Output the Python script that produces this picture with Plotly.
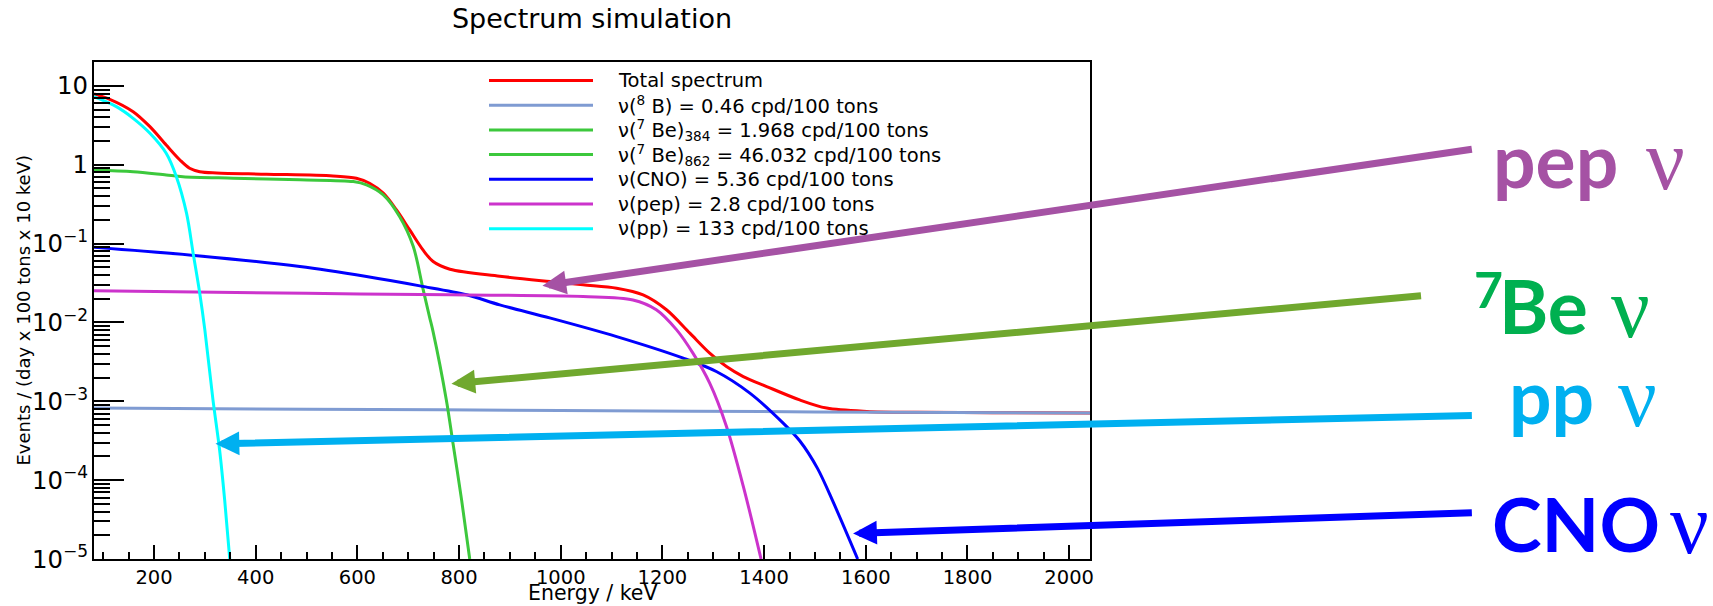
import math
import plotly.graph_objects as go

# ---------------- data ----------------
energy_total = [82, 113, 159, 192, 224, 251, 270, 290, 323, 421, 552, 598, 624, 651, 677, 703,
                729, 749, 782, 880, 979, 1044, 1110, 1162, 1208, 1254, 1293, 1326, 1359, 1405,
                1470, 1523, 1602, 1700, 1850, 2041]
rate_total = [7.89, 6.76, 4.71, 3.04, 1.78, 1.15, 0.904, 0.817, 0.787, 0.759, 0.721, 0.675, 0.582,
              0.436, 0.267, 0.149, 0.0832, 0.0592, 0.0473, 0.0386, 0.0330, 0.0300, 0.0272, 0.0224,
              0.0145, 0.00731, 0.00408, 0.00276, 0.00206, 0.00154, 0.00104, 0.00082, 0.000743,
              0.000724, 0.000717, 0.000708]

energy_b8 = [82, 500, 1000, 1500, 2041]
rate_b8 = [8.2e-4, 7.94e-4, 7.67e-4, 7.33e-4, 7.08e-4]

energy_be7 = [82, 159, 224, 257, 356, 487, 592, 618, 651, 683, 710, 729, 742, 749, 775, 788, 805, 821]
rate_be7 = [0.859, 0.817, 0.741, 0.706, 0.675, 0.643, 0.611, 0.555, 0.414, 0.220, 0.0916, 0.0269,
            0.0117, 0.00759, 0.00104, 0.000295, 0.0000562, 0.00001]

energy_cno = [82, 290, 487, 618, 723, 815, 880, 980, 1110, 1241, 1306, 1372, 1438, 1470, 1505,
              1536, 1584]
rate_cno = [0.0899, 0.0698, 0.0512, 0.0382, 0.0291, 0.0224, 0.0167, 0.01135, 0.00662, 0.00353,
            0.00239, 0.00127, 0.000525, 0.000316, 0.000141, 0.0000525, 0.00001]

energy_pep = [82, 500, 782, 1044, 1142, 1188, 1228, 1260, 1293, 1326, 1360, 1394]
rate_pep = [0.0252, 0.0234, 0.0224, 0.0213, 0.0193, 0.0145, 0.00805, 0.00408, 0.00170, 0.00048,
            0.0000794, 0.00001]

energy_pp = [82, 126, 159, 192, 224, 244, 264, 277, 290, 300, 316, 329, 339, 349]
rate_pp = [7.29, 5.45, 3.88, 2.51, 1.40, 0.706, 0.243, 0.0755, 0.0235, 0.00805, 0.00104, 0.000243,
           0.0000562, 0.00001]

legend_labels = [
    "Total spectrum",
    "\u03bd(<sup>8</sup> B) = 0.46 cpd/100 tons",
    "\u03bd(<sup>7</sup> Be)<sub>384</sub> = 1.968 cpd/100 tons",
    "\u03bd(<sup>7</sup> Be)<sub>862</sub> = 46.032 cpd/100 tons",
    "\u03bd(CNO) = 5.36 cpd/100 tons",
    "\u03bd(pep) = 2.8 cpd/100 tons",
    "\u03bd(pp) = 133 cpd/100 tons",
]

x_tick_vals = [200, 400, 600, 800, 1000, 1200, 1400, 1600, 1800, 2000]

# arrows: (tip energy, tip rate) -> (tail energy, tail rate)
arrow_tips = [(964, 0.0291), (785, 0.001667), (321, 0.000289), (1575, 0.0000211)]
arrow_tails = [(2795, 1.585), (2695, 0.02193), (2795, 0.000661), (2795, 0.0000386)]
arrow_colors = ["#A552A4", "#70A82E", "#00B0F0", "#0000FF"]

label_words = ["pep", "Be", "pp", "CNO"]
label_colors = ["#A552A4", "#00B050", "#00B0F0", "#0000FF"]

# ---------------- figure ----------------
W, H = 1713, 606
L, R, T, B = 94, 1090, 62, 559


def px_x(px):
    return (px - L) / (R - L)


def px_y(py):
    return (B - py) / (B - T)


ROOT_FONT = "DejaVu Sans"

series = [
    ("Total spectrum", energy_total, rate_total, "#FF0000"),
    ("8B", energy_b8, rate_b8, "#7F9BD2"),
    ("7Be", energy_be7, rate_be7, "#3CC83C"),
    ("CNO", energy_cno, rate_cno, "#0000FF"),
    ("pep", energy_pep, rate_pep, "#CC33CC"),
    ("pp", energy_pp, rate_pp, "#00FFFF"),
]
legend_colors = ["#FF0000", "#7F9BD2", "#3CC83C", "#3CC83C", "#0000FF", "#CC33CC", "#00FFFF"]

fig = go.Figure()
for name, xs, ys, col in series:
    fig.add_trace(go.Scatter(
        x=xs, y=ys, mode="lines", name=name, showlegend=False, hoverinfo="skip",
        line=dict(color=col, width=3, shape="spline", smoothing=0.9),
    ))

annotations = []
shapes = []

# manual ROOT-style legend
row_y0, row_dy = 80.5, 24.7
for i, (lab, col) in enumerate(zip(legend_labels, legend_colors)):
    yy = px_y(row_y0 + i * row_dy)
    shapes.append(dict(type="line", xref="paper", yref="paper", x0=px_x(489), x1=px_x(593),
                       y0=yy, y1=yy, line=dict(color=col, width=3)))
    annotations.append(dict(xref="paper", yref="paper", x=px_x(617), y=yy, text=lab,
                            showarrow=False, xanchor="left", yanchor="middle", borderpad=0,
                            font=dict(family=ROOT_FONT, size=19.5, color="black")))

# arrows
for (tx, ty), (ax_, ay_), col in zip(arrow_tips, arrow_tails, arrow_colors):
    annotations.append(dict(
        x=tx, y=math.log10(ty), xref="x", yref="y",
        ax=ax_, ay=math.log10(ay_), axref="x", ayref="y",
        text="", showarrow=True, arrowhead=2, arrowsize=0.68, arrowwidth=7,
        arrowcolor=col, standoff=0,
    ))

# big coloured labels
word_pos = [(1492, 159.4), (1498, 304.7), (1508, 395.4), (1491, 523.1)]
nu_pos = [(1645, 160.3), (1610, 307.6), (1617, 397.0), (1669, 524.3)]
for word, col, (wx, wy), (nx, ny) in zip(label_words, label_colors, word_pos, nu_pos):
    annotations.append(dict(xref="paper", yref="paper", x=px_x(wx), y=px_y(wy), text=word,
                            showarrow=False, xanchor="left", yanchor="middle", borderpad=0,
                            font=dict(family="Lato", size=75, color=col, weight="bold")))
    annotations.append(dict(xref="paper", yref="paper", x=px_x(nx), y=px_y(ny), text="\u03bd",
                            showarrow=False, xanchor="left", yanchor="middle", borderpad=0,
                            font=dict(family="Liberation Serif", size=86, color=col)))
# superscript 7 of 7Be
annotations.append(dict(xref="paper", yref="paper", x=px_x(1473), y=px_y(289), text="7",
                        showarrow=False, xanchor="left", yanchor="middle", borderpad=0,
                        font=dict(family="Lato", size=50, color=label_colors[1], weight="bold")))

# axis titles
annotations.append(dict(xref="paper", yref="paper", x=px_x(22.5), y=px_y(310),
                        text="Events / (day x 100 tons x 10 keV)", textangle=-90,
                        showarrow=False, xanchor="center", yanchor="middle",
                        font=dict(family=ROOT_FONT, size=18, color="black")))
annotations.append(dict(xref="paper", yref="paper", x=px_x(592.5), y=px_y(593),
                        text="Energy / keV", showarrow=False, xanchor="center", yanchor="middle",
                        font=dict(family=ROOT_FONT, size=20.5, color="black")))

fig.update_layout(
    width=W, height=H,
    margin=dict(l=L, r=W - R, t=T, b=H - B, pad=0),
    paper_bgcolor="white", plot_bgcolor="white",
    title=dict(text="Spectrum simulation", x=0.5, xref="paper", xanchor="center",
               y=1 - 19 / H, yanchor="middle", font=dict(family=ROOT_FONT, size=27, color="black")),
    annotations=annotations, shapes=shapes,
    showlegend=False,
)
fig.update_xaxes(
    range=[82, 2041], showgrid=False, zeroline=False,
    showline=True, linecolor="black", linewidth=2, mirror=True,
    ticks="inside", ticklen=14, tickwidth=2, tickcolor="black",
    tickvals=x_tick_vals, ticktext=[str(v) for v in x_tick_vals],
    tickfont=dict(family=ROOT_FONT, size=19.5, color="black"),
    minor=dict(ticks="inside", ticklen=7.5, tickwidth=2, tickcolor="black", dtick=50, tick0=0, showgrid=False),
)
fig.update_yaxes(
    type="log", range=[-5, 1.303], showgrid=False, zeroline=False,
    showline=True, linecolor="black", linewidth=2, mirror=True,
    ticks="inside", ticklen=30, tickwidth=2, tickcolor="black",
    dtick=1, exponentformat="power",
    tickfont=dict(family=ROOT_FONT, size=19.5, color="black"),
    minor=dict(ticks="inside", ticklen=16, tickwidth=2, tickcolor="black", dtick="D1", showgrid=False),
)

fig.write_html("out.html", config={"displayModeBar": False},
               post_script="document.body.style.margin='0px';document.body.style.overflow='hidden';")
